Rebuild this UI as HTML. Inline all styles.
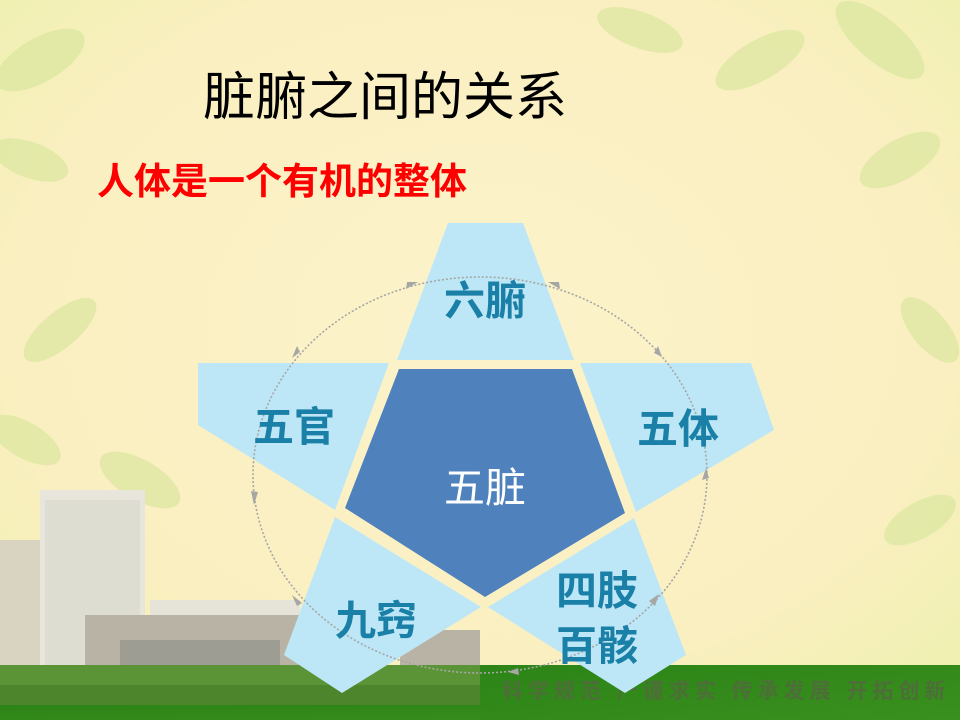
<!DOCTYPE html>
<html><head><meta charset="utf-8"><style>
html,body{margin:0;padding:0;}
body{width:960px;height:720px;overflow:hidden;font-family:"Liberation Sans","Noto Sans CJK SC",sans-serif;}
</style></head><body>
<svg width="960" height="720" viewBox="0 0 960 720" xmlns="http://www.w3.org/2000/svg">
<defs>
<radialGradient id="bg" cx="0.5" cy="0.45" r="0.7">
<stop offset="0" stop-color="#fcf3cb"/><stop offset="0.7" stop-color="#faefc0"/><stop offset="1" stop-color="#eef0b0"/>
</radialGradient>
<linearGradient id="gr" x1="0" y1="0" x2="1" y2="1"><stop offset="0" stop-color="#2c8417"/><stop offset="1" stop-color="#3a901e"/></linearGradient>
</defs>
<rect width="960" height="720" fill="url(#bg)"/>
<g fill="#d6e59a" opacity="0.6">
<ellipse cx="40" cy="60" rx="50" ry="22" transform="rotate(-30 40 60)"/>
<ellipse cx="30" cy="160" rx="40" ry="18" transform="rotate(20 30 160)"/>
<ellipse cx="60" cy="330" rx="45" ry="18" transform="rotate(-40 60 330)"/>
<ellipse cx="25" cy="440" rx="40" ry="18" transform="rotate(30 25 440)"/>
<ellipse cx="640" cy="30" rx="45" ry="18" transform="rotate(20 640 30)"/>
<ellipse cx="760" cy="60" rx="50" ry="20" transform="rotate(-30 760 60)"/>
<ellipse cx="880" cy="40" rx="55" ry="22" transform="rotate(40 880 40)"/>
<ellipse cx="900" cy="160" rx="45" ry="20" transform="rotate(-30 900 160)"/>
<ellipse cx="930" cy="330" rx="40" ry="18" transform="rotate(50 930 330)"/>
<ellipse cx="920" cy="520" rx="40" ry="18" transform="rotate(-30 920 520)"/>
<ellipse cx="140" cy="480" rx="45" ry="20" transform="rotate(30 140 480)"/>
</g>
<rect x="0" y="540" width="40" height="140" fill="#d9d4c2"/>
<rect x="40" y="490" width="105" height="190" fill="#e8e6dc"/>
<rect x="45" y="500" width="95" height="170" fill="#d2d6c6" opacity="0.5"/>
<rect x="150" y="600" width="150" height="80" fill="#e6e4d8"/>
<rect x="85" y="615" width="215" height="65" fill="#b9b3a6"/>
<rect x="120" y="640" width="160" height="30" fill="#8c8d88" opacity="0.6"/>
<rect x="400" y="630" width="80" height="45" fill="#b9b3a6"/>
<rect x="0" y="665" width="480" height="42" fill="#5a9436"/>
<rect x="0" y="685" width="480" height="20" fill="#467f28" opacity="0.7"/>
<rect x="0" y="705" width="960" height="15" fill="url(#gr)"/>
<rect x="480" y="665" width="480" height="55" fill="url(#gr)"/>
<text x="502" y="698" font-size="21" font-weight="bold" fill="#4d6e38" letter-spacing="5" font-family="Liberation Sans,Noto Sans CJK SC,sans-serif">科学规范  严谨求实  传承发展  开拓创新</text>
<g fill="#bde7f6">
<polygon points="448,223 523,223 574,360 397,360"/>
<polygon points="198,363 389,363 335,510 198,425"/>
<polygon points="580,363 751,363 774,430 636,512"/>
<polygon points="634,518 686,655 625,693 488,607"/>
<polygon points="335,517 481,607 342,693 284,655"/>
</g>
<polygon points="399,369 572,369 625,513 485,597 345,508" fill="#4f81bd"/>
<ellipse cx="480" cy="475" rx="227" ry="198" fill="none" stroke="#a6a6a6" stroke-width="1.6" stroke-dasharray="2,2"/>
<g fill="#a6a6a6">
<polygon points="418,282 406,289 407,282"/>
<polygon points="548,282 560,289 559,282"/>
<polygon points="662,357 658,346 654,353"/>
<polygon points="706,468 702,480 709,478"/>
<polygon points="659,594 655,606 649,601"/>
<polygon points="508,672 518,668 519,675"/>
<polygon points="292,595 302,603 297,606"/>
<polygon points="254,505 251,491 258,492"/>
<polygon points="292,358 297,346 300,352"/>
</g>
<g font-family="Liberation Sans,Noto Sans CJK SC,sans-serif" text-anchor="middle" font-size="41" font-weight="bold" fill="#1a80a8">
<text x="485" y="315">六腑</text>
<text x="294" y="441">五官</text>
<text x="678" y="443">五体</text>
<text x="376" y="635">九窍</text>
<text x="597" y="605">四肢</text>
<text x="597" y="660">百骸</text>
<text x="485" y="502" fill="#ffffff" font-weight="normal">五脏</text>
</g>
<text x="203" y="115" font-size="52" fill="#000" font-family="Liberation Sans,Noto Sans CJK SC,sans-serif">脏腑之间的关系</text>
<text x="97" y="194" font-size="37" font-weight="bold" fill="#ff0000" font-family="Liberation Sans,Noto Sans CJK SC,sans-serif">人体是一个有机的整体</text>
</svg>
</body></html>
